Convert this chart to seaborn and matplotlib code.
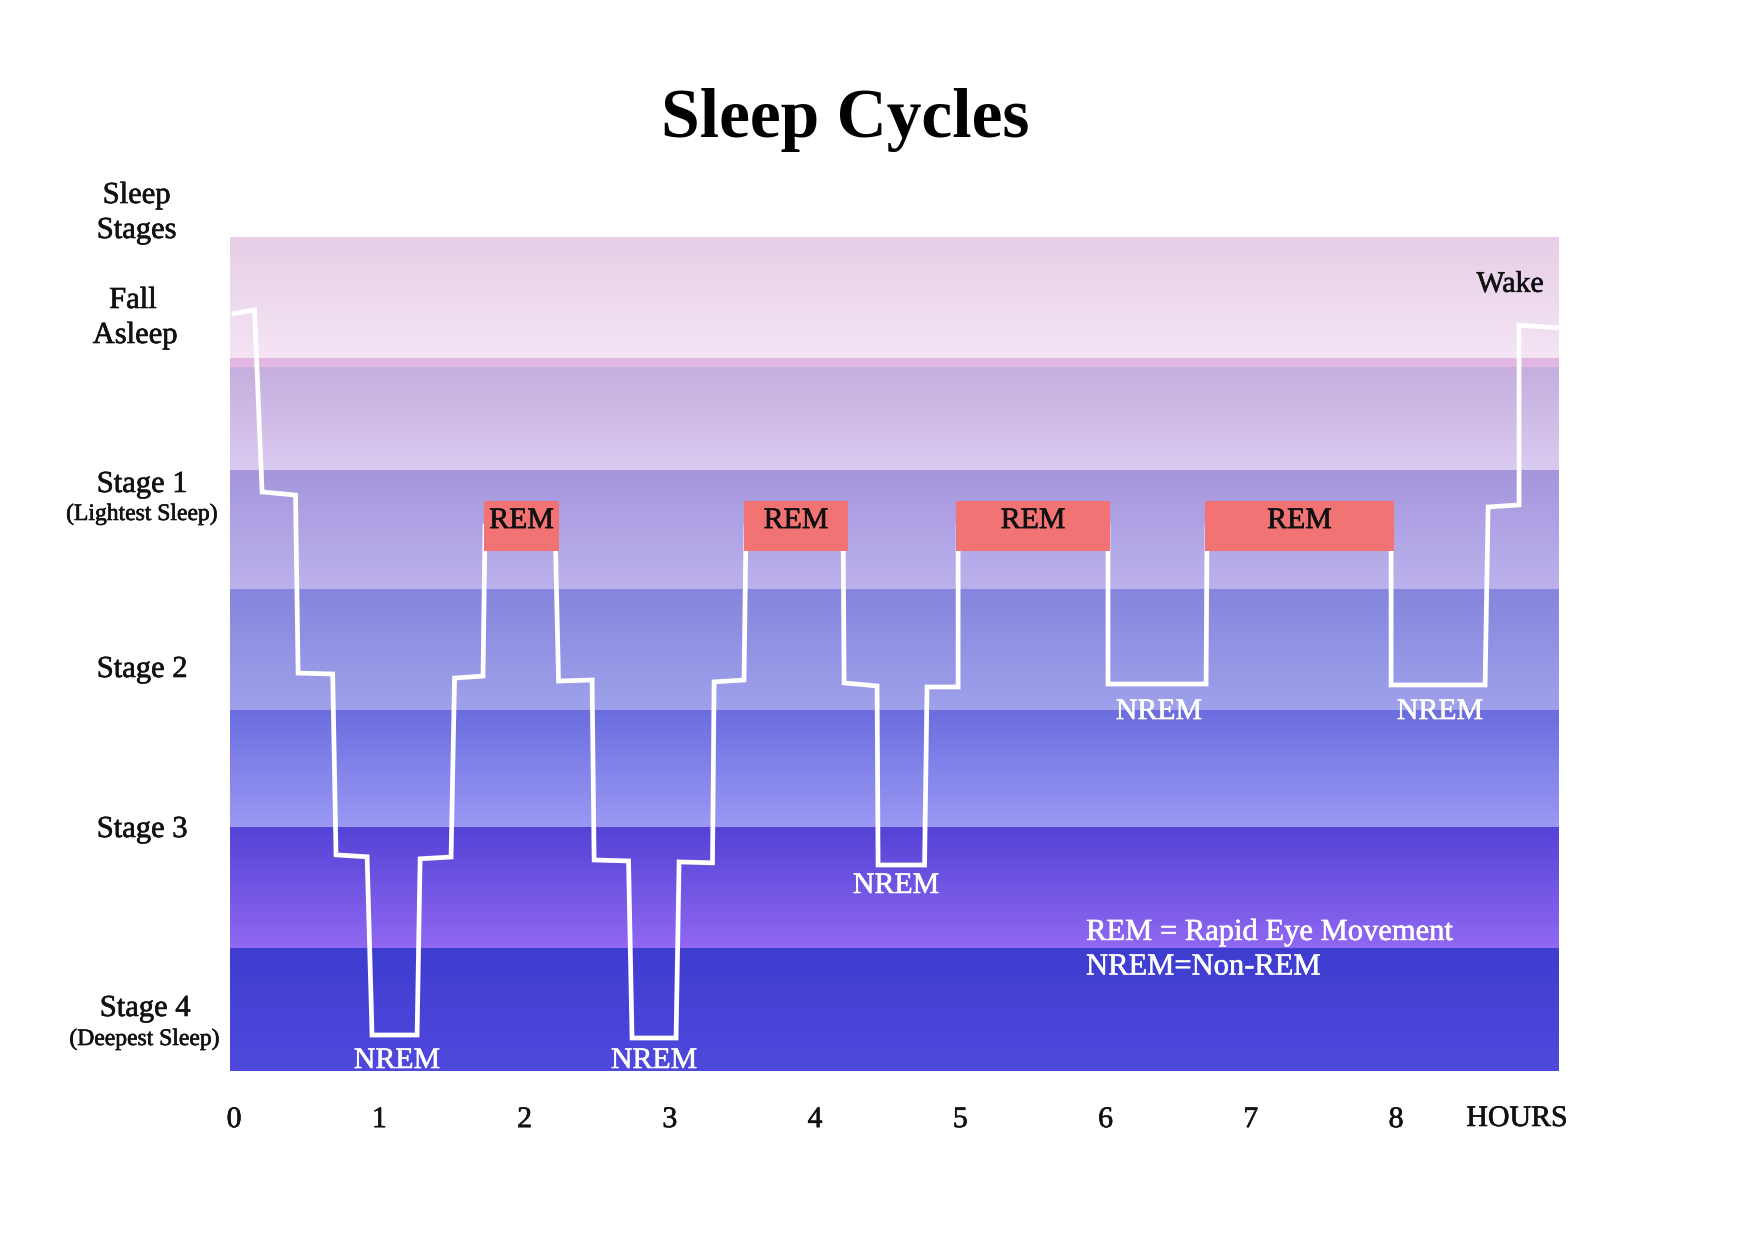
import numpy as np
import pandas as pd
import matplotlib
matplotlib.use("Agg")
import matplotlib.pyplot as plt
import matplotlib.patheffects as pe
import seaborn as sns
from matplotlib.colors import to_rgb

# ---------------- data ----------------
# hypnogram vertices: time in hours, depth (0 = awake, 7 = deepest)
hyp_hours = [-0.017, 0.141, 0.193, 0.423, 0.441, 0.679, 0.702, 0.916, 0.950, 1.260,
             1.281, 1.494, 1.518, 1.714, 1.728, 2.210, 2.234, 2.465, 2.479, 2.716,
             2.740, 3.043, 3.064, 3.294, 3.305, 3.511, 3.525, 4.193, 4.200, 4.427,
             4.434, 4.754, 4.771, 4.985, 4.985, 6.017, 6.017, 6.692, 6.699, 7.966,
             7.966, 8.613, 8.634, 8.847, 8.847, 9.122]
hyp_depth = [0.646, 0.613, 2.140, 2.166, 3.660, 3.668, 5.186, 5.202, 6.698, 6.698,
             5.219, 5.204, 3.702, 3.685, 2.426, 2.426, 3.727, 3.718, 5.229, 5.237,
             6.723, 6.723, 5.245, 5.253, 3.734, 3.718, 2.426, 2.426, 3.743, 3.768,
             5.271, 5.271, 3.777, 3.777, 2.426, 2.426, 3.752, 3.752, 2.426, 2.426,
             3.760, 3.760, 2.266, 2.249, 0.739, 0.764]

# REM periods (hours)
rem_start = [1.721, 3.511, 4.971, 6.685]
rem_end = [2.238, 4.227, 6.031, 7.986]
rem_top, rem_bottom = 2.216, 2.636

# NREM label anchors (hours, depth)
nrem_hours = [1.122, 2.892, 4.558, 6.368, 8.303]
nrem_depth = [6.975, 6.975, 5.506, 4.046, 4.046]

hour_ticks = [0, 1, 2, 3, 4, 5, 6, 7, 8]
hour_labels = ["0", "1", "2", "3", "4", "5", "6", "7", "8"]

# background bands (depth edges) and colours (top -> bottom gradient)
band_edges = [0.0, 1.016, 1.09, 1.96, 2.96, 3.97, 4.96, 5.97, 7.0]
band_top = ["#e6cfe7", "#e2b6e2", "#c5aede", "#a596dc", "#8586dc", "#6b6ddf", "#5443d5", "#3e3dcf"]
band_bot = ["#f4e4f4", "#e4b9e4", "#dacbf0", "#bdb1ed", "#a0a1eb", "#9b99f4", "#9068f2", "#5049dd"]

# ---------------- figure ----------------
W, H = 1739, 1235
sns.set_theme(style="white")
plt.rcParams["font.family"] = ["Liberation Serif", "DejaVu Serif"]

dark = "#111111"
heavy = [pe.withStroke(linewidth=0.45, foreground=dark)]
heavy_w = [pe.withStroke(linewidth=0.4, foreground="white")]

fig = plt.figure(figsize=(W / 100, H / 100), dpi=100)
fig.patch.set_facecolor("white")
ax = fig.add_axes([230 / W, 1 - 1071 / H, 1329 / W, 834 / H])

xmin, xmax = -0.028, 9.122

t = np.linspace(0, 1, 256)[:, None, None]
for i in range(len(band_top)):
    c0 = np.array(to_rgb(band_top[i]))[None, None, :]
    c1 = np.array(to_rgb(band_bot[i]))[None, None, :]
    img = (1 - t) * c0 + t * c1
    ax.imshow(img, extent=(xmin, xmax, band_edges[i + 1], band_edges[i]),
              origin="upper", aspect="auto", interpolation="bilinear", zorder=0)

# hypnogram line
df = pd.DataFrame({"hours": hyp_hours, "depth": hyp_depth})
sns.lineplot(data=df, x="hours", y="depth", sort=False, estimator=None,
             color="white", linewidth=3.4, ax=ax, zorder=3, legend=False)
for ln in ax.lines:
    ln.set_solid_joinstyle("miter")
    ln.set_solid_capstyle("butt")

# REM boxes
ax.bar(rem_start, height=rem_bottom - rem_top,
       width=np.array(rem_end) - np.array(rem_start),
       bottom=rem_top, align="edge", color="#f17374", linewidth=0, zorder=4)
for s, e in zip(rem_start, rem_end):
    ax.text((s + e) / 2, 2.443, "REM", ha="center", va="baseline",
            fontsize=21.5, color=dark, zorder=5, path_effects=heavy)

for h, d in zip(nrem_hours, nrem_depth):
    ax.text(h, d, "NREM", ha="center", va="baseline", fontsize=21.5,
            color="white", zorder=5, path_effects=heavy_w)

ax.text(5.866, 5.90, "REM = Rapid Eye Movement", ha="left", va="baseline",
        fontsize=22, color="white", zorder=5, path_effects=heavy_w)
ax.text(5.866, 6.19, "NREM=Non-REM", ha="left", va="baseline",
        fontsize=22, color="white", zorder=5, path_effects=heavy_w)
ax.text(8.785, 0.46, "Wake", ha="center", va="baseline", fontsize=21.5,
        color=dark, zorder=5, path_effects=heavy)

ax.set_xlim(xmin, xmax)
ax.set_ylim(7.0, 0.0)
ax.set_xlabel("")
ax.set_ylabel("")
ax.set_yticks([])
ax.set_xticks(hour_ticks)
ax.set_xticklabels(hour_labels)
ax.tick_params(axis="x", length=0, pad=26, labelsize=21.5, labelcolor=dark)
for lab in ax.get_xticklabels():
    lab.set_path_effects(heavy)
for sp in ax.spines.values():
    sp.set_visible(False)
ax.grid(False)

fig.text(1517 / W, 1 - 1126 / H, "HOURS", ha="center", va="baseline",
         fontsize=21.5, color=dark, path_effects=heavy)

# left side stage labels (centre x px, baseline y px, text, size)
left_labels = [
    (136.5, 203, "Sleep", 22), (136.5, 238, "Stages", 22),
    (133, 308, "Fall", 22), (135, 343, "Asleep", 22),
    (142, 492, "Stage 1", 22), (142, 520, "(Lightest Sleep)", 17),
    (142, 677, "Stage 2", 22),
    (142, 837, "Stage 3", 22),
    (145, 1016, "Stage 4", 22), (144.5, 1045, "(Deepest Sleep)", 17),
]
for x, y, s, fs in left_labels:
    fig.text(x / W, 1 - y / H, s, ha="center", va="baseline", fontsize=fs,
             color=dark, path_effects=heavy)

fig.text(845 / W, 1 - 137 / H, "Sleep Cycles", ha="center", va="baseline",
         fontsize=50, fontweight="bold", color="#000000")

fig.savefig("out.png", dpi=100)
